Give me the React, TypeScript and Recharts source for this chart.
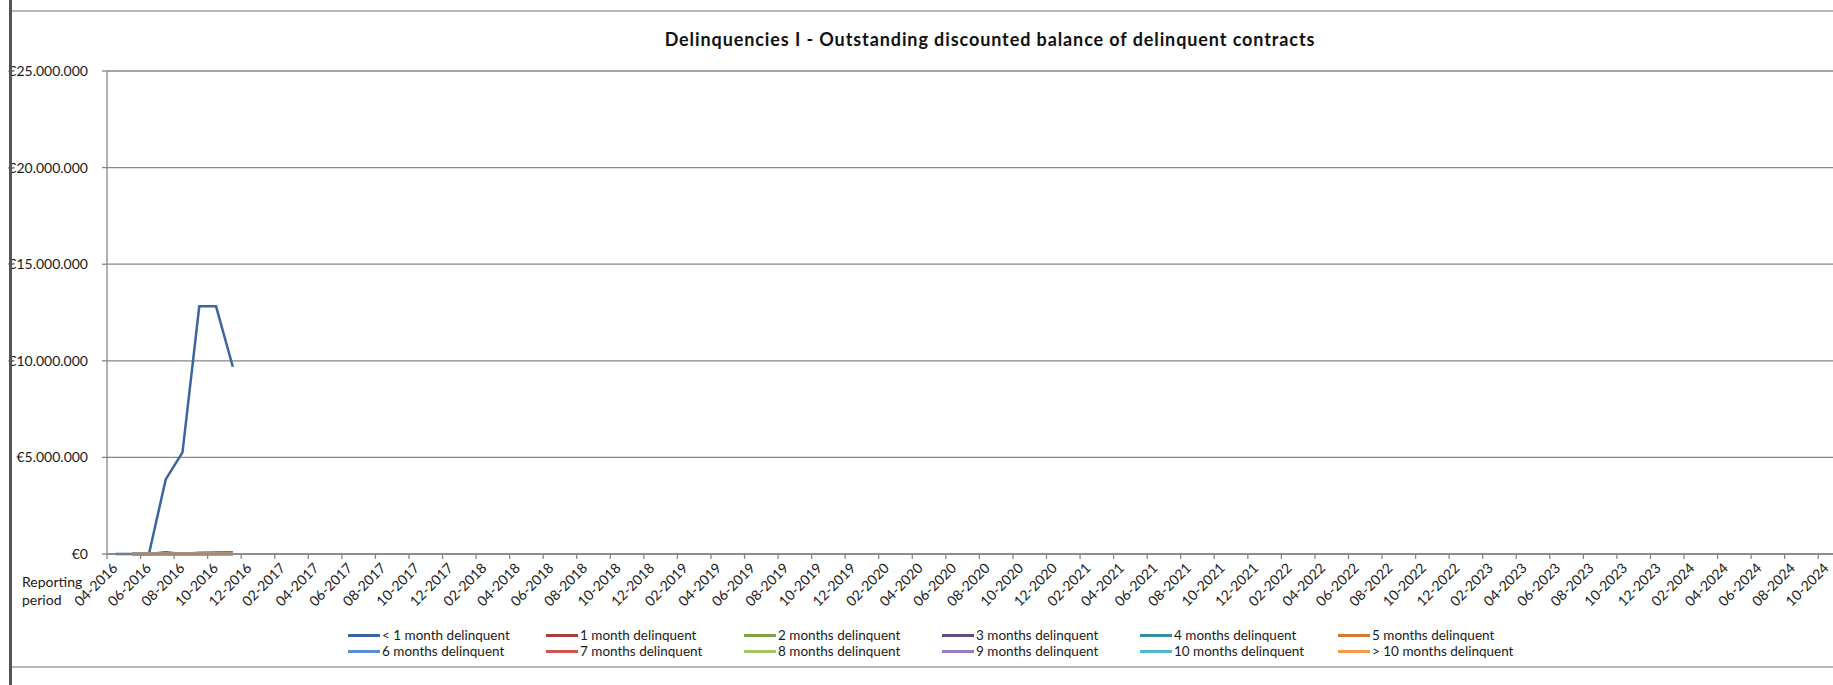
import { LineChart, Line, XAxis, YAxis, CartesianGrid, Legend } from 'recharts';

const FONT = 'Lato, "Open Sans", sans-serif';

// reporting periods 04-2016 .. 10-2024
const months: string[] = [];
for (let y = 2016; y <= 2024; y++) {
  for (let m = 1; m <= 12; m++) {
    if (y === 2016 && m < 4) continue;
    if (y === 2024 && m > 10) continue;
    months.push(`${String(m).padStart(2, '0')}-${y}`);
  }
}

const yTicks = [0, 5000000, 10000000, 15000000, 20000000, 25000000];

// values from 04-2016 onwards, nothing after 11-2016
const lessThan1 = [0, 0, 0, 3860000, 5260000, 12820000, 12820000, 9690000];
const month1 = [null, 0, 0, 90000, 0, 60000, 80000, 90000];
const month2 = [null, 0, 0, 0, 20000, 10000, 20000, 30000];
const month3 = [null, 0, 0, 0, 0, 0, 10000, 10000];
const month4 = [null, 0, 0, 0, 0, 0, 0, 0];
const month5 = [null, 0, 0, 0, 0, 30000, 50000, 60000];
const month6 = [null, 0, 0, 0, 0, 0, 0, 0];
const month7 = [null, 0, 0, 0, 0, 0, 0, 0];
const month8 = [null, 0, 0, 0, 0, 0, 0, 0];
const month9 = [null, 0, 0, 0, 0, 0, 0, 0];
const month10 = [null, 0, 0, 0, 0, 0, 0, 0];
const moreThan10 = [null, 0, 0, 0, 0, 0, 0, 0];

const series = [
  { key: 'lt1', name: '< 1 month delinquent', color: '#3B65A0', values: lessThan1 },
  { key: 'm1', name: '1 month delinquent', color: '#A63E3A', values: month1 },
  { key: 'm2', name: '2 months delinquent', color: '#7FA03E', values: month2 },
  { key: 'm3', name: '3 months delinquent', color: '#654E88', values: month3 },
  { key: 'm4', name: '4 months delinquent', color: '#378DA4', values: month4 },
  { key: 'm5', name: '5 months delinquent', color: '#D27830', values: month5 },
  { key: 'm6', name: '6 months delinquent', color: '#5B8ED6', values: month6 },
  { key: 'm7', name: '7 months delinquent', color: '#D2534F', values: month7 },
  { key: 'm8', name: '8 months delinquent', color: '#A2C562', values: month8 },
  { key: 'm9', name: '9 months delinquent', color: '#987CC2', values: month9 },
  { key: 'm10', name: '10 months delinquent', color: '#4EB7D3', values: month10 },
  { key: 'gt10', name: '> 10 months delinquent', color: '#F7994A', values: moreThan10 },
];

const data = months.map((month, i) => {
  const row: any = { month };
  series.forEach((s) => {
    row[s.key] = i < s.values.length ? s.values[i] : null;
  });
  return row;
});

const PLOT_W = 1728;
const half = PLOT_W / months.length / 2;

const euro = (v: number) => '€' + v.toString().replace(/\B(?=(\d{3})+(?!\d))/g, '.');

const MonthTick = ({ x, y, payload }: any) => (
  <g>
    <line x1={x - half} x2={x - half} y1={y - 5} y2={y} stroke="#868686" strokeWidth={1.3} />
    <text
      x={x + 3}
      y={y + 10}
      textAnchor="end"
      transform={`rotate(-45 ${x + 3} ${y + 10})`}
      fontSize={14}
      fontFamily={FONT}
      fill="#1a1a1a"
    >
      {payload.value}
    </text>
  </g>
);

const renderLegend = () => (
  <div
    style={{
      display: 'grid',
      gridTemplateColumns: 'repeat(6, 198px)',
      fontFamily: FONT,
      fontSize: 13.5,
      color: '#1a1a1a',
    }}
  >
    {series.map((s) => (
      <div key={s.key} style={{ display: 'flex', alignItems: 'center', height: 16, whiteSpace: 'nowrap' }}>
        <span style={{ width: 32, borderTop: `3px solid ${s.color}`, marginRight: 2 }} />
        <span>{s.name}</span>
      </div>
    ))}
  </div>
);

export default function App() {
  return (
    <div
      style={{
        position: 'absolute',
        top: 0,
        left: 0,
        width: 1833,
        height: 685,
        overflow: 'hidden',
        background: '#fff',
      }}
    >
      <LineChart
        width={1850}
        height={685}
        data={data}
        margin={{ top: 71, right: 15, left: 0, bottom: 71 }}
      >
        <CartesianGrid vertical={false} stroke="#868686" strokeWidth={1.3} />
        <XAxis
          dataKey="month"
          interval={1}
          height={60}
          tickSize={5}
          tickMargin={0}
          tickLine={false}
          axisLine={{ stroke: '#868686', strokeWidth: 1.3 }}
          padding={{ left: half, right: half }}
          tick={<MonthTick />}
        />
        <YAxis
          width={107}
          domain={[0, 25000000]}
          ticks={yTicks}
          tickFormatter={euro}
          tickSize={5}
          tickMargin={14}
          axisLine={{ stroke: '#868686', strokeWidth: 1.3 }}
          tickLine={{ stroke: '#868686', strokeWidth: 1.3 }}
          tick={{ fontSize: 14, fontFamily: FONT, fill: '#1a1a1a' }}
        />
        <Legend
          layout="vertical"
          align="center"
          verticalAlign="middle"
          content={renderLegend}
          wrapperStyle={{ top: 627, left: 348, width: 1200 }}
        />
        {series.map((s) => (
          <Line
            key={s.key}
            dataKey={s.key}
            name={s.name}
            stroke={s.color}
            strokeWidth={2.5}
            dot={false}
            activeDot={false}
            type="linear"
            isAnimationActive={false}
          />
        ))}
      </LineChart>
      <div
        style={{
          position: 'absolute',
          top: 28,
          left: 990,
          transform: 'translateX(-50%)',
          fontFamily: FONT,
          fontWeight: 700,
          fontSize: 18,
          letterSpacing: 0.9,
          color: '#111',
          whiteSpace: 'nowrap',
        }}
      >
        Delinquencies I - Outstanding discounted balance of delinquent contracts
      </div>
      <div
        style={{
          position: 'absolute',
          top: 573,
          left: 22,
          fontFamily: FONT,
          fontSize: 14,
          lineHeight: '18px',
          color: '#1a1a1a',
        }}
      >
        Reporting
        <br />
        period
      </div>
      <div style={{ position: 'absolute', left: 10, top: 10, width: 1823, height: 2, background: '#b8b8b8' }} />
      <div style={{ position: 'absolute', left: 10, top: 666, width: 1823, height: 2, background: '#b8b8b8' }} />
      <div style={{ position: 'absolute', left: 9, top: 0, width: 3, height: 685, background: '#555' }} />
    </div>
  );
}
